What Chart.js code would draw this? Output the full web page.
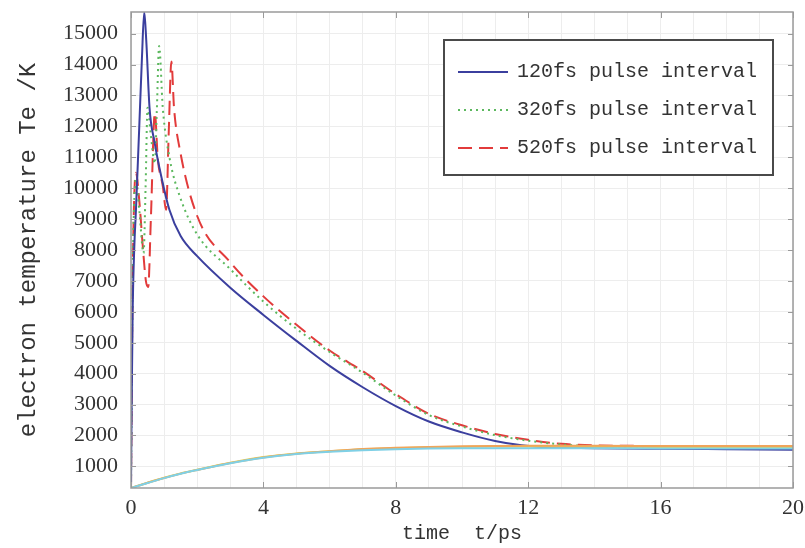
<!DOCTYPE html>
<html>
<head>
<meta charset="utf-8">
<script src="https://cdn.jsdelivr.net/npm/chart.js@4.4.1/dist/chart.umd.min.js"></script>
<style>
  html, body { margin: 0; padding: 0; background: #fff; }
</style>
</head>
<body>
<canvas id="myChart" width="805" height="548"></canvas>
<script>
// electron temperature (K) vs time (ps) for three pulse trains
var t120  = [0, 0.02, 0.05, 0.1, 0.15, 0.25, 0.33, 0.4, 0.46, 0.56, 0.71, 0.91, 1.16, 1.5, 2, 3, 4, 5, 6, 7, 8, 9, 10, 11, 11.8, 12.5, 14, 16, 18, 20];
var te120 = [300, 3000, 6000, 8100, 9300, 12000, 14200, 15700, 14800, 12600, 11500, 10400, 9300, 8450, 7800, 6780, 5900, 5060, 4250, 3560, 2950, 2450, 2100, 1820, 1680, 1620, 1590, 1570, 1555, 1540];

var t320  = [0, 0.05, 0.15, 0.25, 0.38, 0.44, 0.5, 0.6, 0.72, 0.78, 0.85, 0.96, 1.17, 1.47, 2, 3, 4, 5, 6, 7, 8, 9, 10, 11, 12, 13, 14, 16, 18, 20];
var te320 = [300, 7000, 10300, 9300, 7900, 10000, 12600, 11700, 10800, 12500, 14600, 12600, 10950, 9750, 8500, 7380, 6330, 5450, 4700, 4030, 3290, 2660, 2290, 2010, 1830, 1710, 1650, 1630, 1620, 1610];

var t520  = [0, 0.05, 0.15, 0.25, 0.35, 0.45, 0.52, 0.6, 0.72, 0.81, 0.96, 1.06, 1.14, 1.22, 1.3, 1.47, 2, 3, 4, 5, 6, 7, 8, 9, 10, 11, 12, 13, 14, 16, 18, 20];
var te520 = [300, 7000, 10500, 9600, 8200, 7000, 6800, 9000, 12430, 10950, 10070, 9300, 11800, 14100, 12600, 11280, 9100, 7600, 6500, 5580, 4750, 4080, 3340, 2700, 2330, 2050, 1860, 1730, 1680, 1660, 1650, 1640];

// lattice temperature for the same three cases
var tLat   = [0, 0.5, 1, 1.5, 2, 3, 4, 5, 6, 7, 8, 9, 10, 11, 12, 14, 16, 18, 20];
var lat120 = [300, 460, 620, 760, 880, 1100, 1280, 1400, 1470, 1520, 1555, 1575, 1585, 1590, 1590, 1585, 1580, 1578, 1575];
var lat320 = [300, 470, 630, 770, 890, 1120, 1300, 1420, 1490, 1550, 1590, 1615, 1630, 1640, 1640, 1635, 1630, 1625, 1620];
var lat520 = [300, 470, 625, 765, 885, 1110, 1290, 1410, 1490, 1560, 1600, 1630, 1650, 1660, 1665, 1665, 1660, 1658, 1655];

var seriesLabels = ['120fs pulse interval', '320fs pulse interval', '520fs pulse interval'];
var yTickValues = [1000, 2000, 3000, 4000, 5000, 6000, 7000, 8000, 9000, 10000, 11000, 12000, 13000, 14000, 15000];
var xTickStep = 4;

function pts(xs, ys) {
    return xs.map(function(x, i) { return {x: x, y: ys[i]}; });
}

function latSet(ys, color) {
    return {
        label: '',
        data: pts(tLat, ys),
        borderColor: color,
        borderWidth: 2,
        pointRadius: 0,
        cubicInterpolationMode: 'monotone'
    };
}

// box around the plot, inward tick marks, and the legend panel
var frame = {
    id: 'frame',
    afterDraw: function(chart) {
        var ctx = chart.ctx, a = chart.chartArea;
        var xs = chart.scales.x, ys = chart.scales.y;
        ctx.save();
        ctx.strokeStyle = '#9a9a9a';
        ctx.lineWidth = 1.5;
        ctx.strokeRect(a.left, a.top, a.right - a.left, a.bottom - a.top);

        ctx.lineWidth = 1;
        ctx.beginPath();
        yTickValues.forEach(function(v) {
            var py = Math.round(ys.getPixelForValue(v)) + 0.5;
            ctx.moveTo(a.left, py); ctx.lineTo(a.left + 5, py);
            ctx.moveTo(a.right, py); ctx.lineTo(a.right - 5, py);
        });
        for (var v = 0; v <= 20; v += xTickStep) {
            var px = Math.round(xs.getPixelForValue(v)) + 0.5;
            ctx.moveTo(px, a.bottom); ctx.lineTo(px, a.bottom - 6);
            ctx.moveTo(px, a.top); ctx.lineTo(px, a.top + 6);
        }
        ctx.stroke();

        // legend
        var bx = 444, by = 40, bw = 329, bh = 135;
        ctx.fillStyle = '#fff';
        ctx.fillRect(bx, by, bw, bh);
        ctx.strokeStyle = '#4a4a4a';
        ctx.lineWidth = 2;
        ctx.strokeRect(bx, by, bw, bh);
        ctx.font = '20px "Liberation Mono"';
        ctx.textBaseline = 'middle';
        ctx.fillStyle = '#333';
        var row = 0;
        chart.data.datasets.forEach(function(ds) {
            if (!ds.label) return;
            var ry = by + 32 + row * 38;
            ctx.beginPath();
            ctx.strokeStyle = ds.borderColor;
            ctx.lineWidth = ds.borderWidth;
            ctx.setLineDash(ds.borderDash || []);
            ctx.moveTo(bx + 14, ry);
            ctx.lineTo(bx + 64, ry);
            ctx.stroke();
            ctx.setLineDash([]);
            ctx.fillText(ds.label, bx + 73, ry);
            row++;
        });
        ctx.restore();
    }
};

var ctx = document.getElementById('myChart').getContext('2d');
var myChart = new Chart(ctx, {
    type: 'line',
    data: {
        datasets: [
            latSet(lat120, '#7fd0e6'),
            latSet(lat520, '#f0a55a'),
            latSet(lat320, '#e6d454'),
            {
                label: seriesLabels[0],
                data: pts(t120, te120),
                borderColor: '#3b3f9e',
                borderWidth: 2,
                pointRadius: 0,
                cubicInterpolationMode: 'monotone'
            },
            {
                label: seriesLabels[1],
                data: pts(t320, te320),
                borderColor: '#5cb85e',
                borderWidth: 2,
                borderDash: [2, 4],
                pointRadius: 0,
                cubicInterpolationMode: 'monotone'
            },
            {
                label: seriesLabels[2],
                data: pts(t520, te520),
                borderColor: '#e23b3b',
                borderWidth: 2,
                borderDash: [14, 7],
                pointRadius: 0,
                cubicInterpolationMode: 'monotone'
            }
        ]
    },
    options: {
        responsive: false,
        animation: false,
        devicePixelRatio: 1,
        layout: { padding: 0 },
        plugins: {
            legend: { display: false },
            tooltip: { enabled: false }
        },
        scales: {
            x: {
                type: 'linear',
                min: 0,
                max: 20,
                border: { display: false },
                grid: { color: '#ededed', drawTicks: false },
                ticks: {
                    stepSize: 1,
                    autoSkip: false,
                    maxRotation: 0,
                    padding: 7,
                    color: '#333',
                    font: { family: 'Liberation Serif', size: 22 },
                    callback: function(v) { return v % xTickStep === 0 ? String(v) : ''; }
                },
                title: {
                    display: true,
                    text: 'time  t/ps',
                    color: '#333',
                    font: { family: 'Liberation Mono', size: 20 },
                    padding: { top: 0, bottom: 2 }
                },
                afterFit: function(scale) {
                    scale.height = 60;
                    scale.paddingLeft = 0;
                    scale.paddingRight = 12;
                }
            },
            y: {
                min: 300,
                max: 15700,
                border: { display: false },
                grid: { color: '#ededed', drawTicks: false },
                ticks: {
                    padding: 13,
                    color: '#333',
                    font: { family: 'Liberation Serif', size: 22 },
                    callback: function(v) { return String(v); }
                },
                afterBuildTicks: function(scale) {
                    scale.ticks = yTickValues.map(function(v) { return {value: v}; });
                },
                title: {
                    display: true,
                    text: 'electron temperature Te /K',
                    color: '#333',
                    font: { family: 'Liberation Mono', size: 24 },
                    padding: { top: 14, bottom: 0 }
                },
                afterFit: function(scale) {
                    scale.width = 131;
                    scale.paddingTop = 12;
                    scale.paddingBottom = 0;
                }
            }
        }
    },
    plugins: [frame]
});
</script>
</body>
</html>
